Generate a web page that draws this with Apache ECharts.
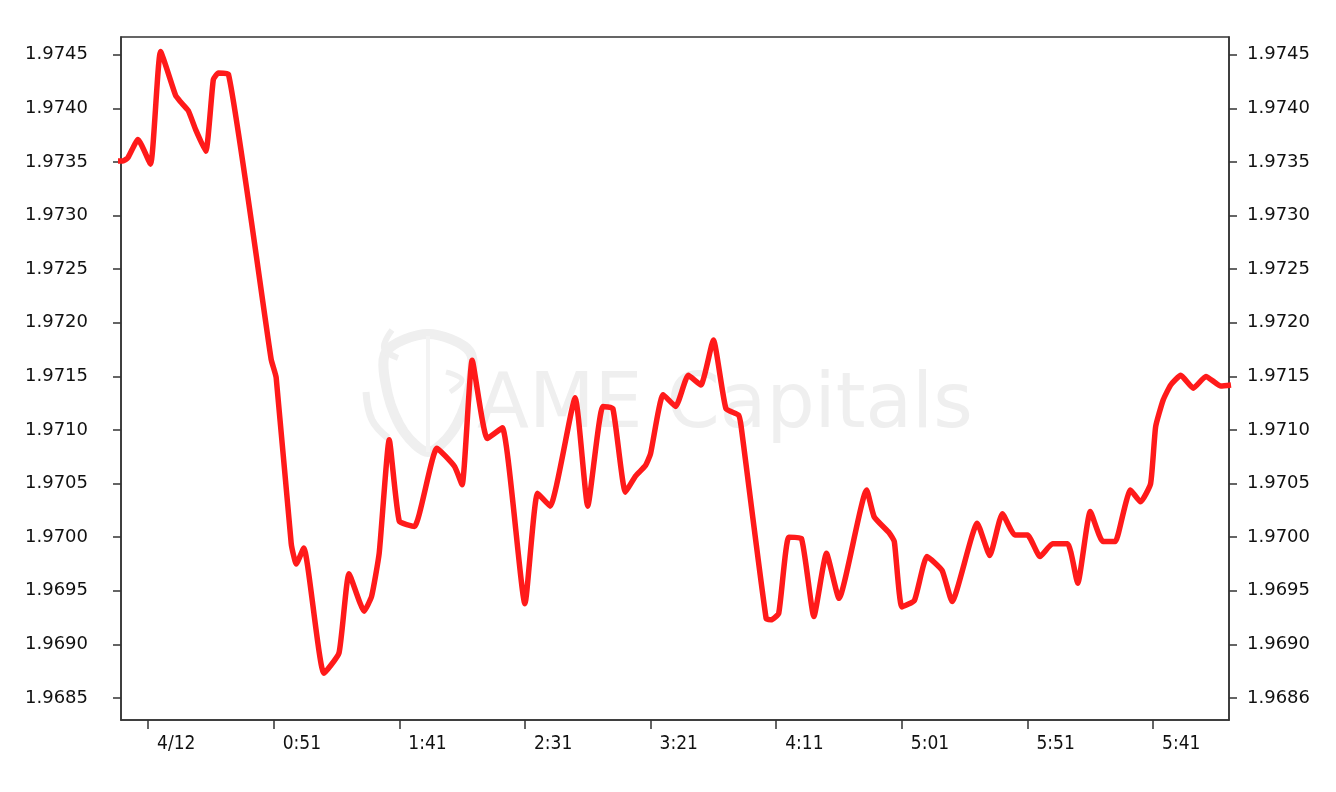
<!DOCTYPE html>
<html>
<head>
<meta charset="utf-8">
<script src="https://cdn.jsdelivr.net/npm/echarts@6/dist/echarts.min.js"></script>
<style>
  html, body { margin: 0; padding: 0; background: #ffffff; }
  #chart { width: 1336px; height: 792px; }
</style>
</head>
<body>
<div id="chart"></div>
<script>
// minutes after 00:01 (the "4/12" tick)
const minutes = [-14, -10, -8, -4, 1, 5, 11, 13, 16, 19, 23, 26, 28, 32, 49, 51, 57, 59, 62, 70,
  76, 80, 86, 89, 92, 96, 100, 106, 115, 122, 125, 129, 135, 141, 150, 155, 160, 170, 175, 181,
  185, 190, 194, 198, 200, 205, 210, 215, 220, 225, 230, 235, 236, 246, 248, 251, 255, 260, 265, 270,
  275, 286, 289, 295, 297, 300, 305, 310, 316, 320, 330, 335, 340, 345, 350, 355, 360, 366, 370, 375,
  380, 385, 386, 391, 395, 399, 401, 404, 407, 411, 416, 421, 427, 431];
const prices = [1.97351, 1.97351, 1.97354, 1.97371, 1.97348, 1.97453, 1.97412, 1.97406, 1.97398, 1.97380,
  1.97360, 1.97427, 1.97433, 1.97432, 1.97166, 1.97149, 1.96994, 1.96975, 1.96990, 1.96873,
  1.96892, 1.96966, 1.96931, 1.96945, 1.96985, 1.97091, 1.97015, 1.97010, 1.97083, 1.97066,
  1.97049, 1.97165, 1.97092, 1.97102, 1.96938, 1.97041, 1.97029, 1.97130, 1.97029, 1.97122,
  1.97120, 1.97042, 1.97057, 1.97067, 1.97078, 1.97133, 1.97122, 1.97151, 1.97142, 1.97184,
  1.97120, 1.97114, 1.97104, 1.96924, 1.96923, 1.96929, 1.97000, 1.96999, 1.96926, 1.96985,
  1.96943, 1.97044, 1.97019, 1.97004, 1.96996, 1.96935, 1.96941, 1.96982, 1.96969, 1.96940,
  1.97013, 1.96983, 1.97022, 1.97002, 1.97002, 1.96982, 1.96994, 1.96994, 1.96957, 1.97024,
  1.96996, 1.96996, 1.97002, 1.97044, 1.97033, 1.97050, 1.97103, 1.97128, 1.97142, 1.97151,
  1.97139, 1.97150, 1.97141, 1.97142];

const xTickMinutes = [0, 50, 100, 150, 200, 250, 300, 350, 400];
const xTickLabels = ['4/12', '0:51', '1:41', '2:31', '3:21', '4:11', '5:01', '5:51', '5:41'];
const yTickValues = [1.9685, 1.9690, 1.9695, 1.9700, 1.9705, 1.9710, 1.9715, 1.9720, 1.9725, 1.9730, 1.9735, 1.9740, 1.9745];
const leftTickLabels = ['1.9685', '1.9690', '1.9695', '1.9700', '1.9705', '1.9710', '1.9715', '1.9720', '1.9725', '1.9730', '1.9735', '1.9740', '1.9745'];
const rightTickLabels = ['1.9686', '1.9690', '1.9695', '1.9700', '1.9705', '1.9710', '1.9715', '1.9720', '1.9725', '1.9730', '1.9735', '1.9740', '1.9745'];

const yMin = 1.968295, yMax = 1.974666;
const xMin = -10.75, xMax = 430.2;

function labelFor(list, values, v) {
  let best = 0, bd = Infinity;
  for (let i = 0; i < values.length; i++) {
    const d = Math.abs(values[i] - v);
    if (d < bd) { bd = d; best = i; }
  }
  return list[best];
}

const axisColor = '#333333';
const wm = '#efefef';
const yFont = '"DejaVu Sans", sans-serif';
const xFont = '"DejaVu Sans Condensed", "Liberation Sans Narrow", Roboto, sans-serif';
const chart = echarts.init(document.getElementById('chart'));
const yAxisCommon = {
  type: 'value', min: yMin, max: yMax, scale: true,
  splitLine: { show: false },
  axisLine: { show: true, onZero: false, lineStyle: { color: axisColor, width: 1.5 } },
  axisTick: { show: true, length: 8, customValues: yTickValues, lineStyle: { color: axisColor, width: 1.5 } }
};
chart.setOption({
  animation: false,
  backgroundColor: '#ffffff',
  grid: { left: 121, right: 107, top: 37, bottom: 72, show: true, borderColor: axisColor, borderWidth: 1.5 },
  graphic: [
    {
      type: 'text', x: 477, y: 407, z: 0,
      style: { text: 'AME Capitals', font: '76px "DejaVu Sans"', fill: wm, verticalAlign: 'middle' }
    },
    {
      type: 'polygon', z: 0,
      shape: { points: [[386, 352], [428, 334], [470, 352], [468, 395], [452, 432], [428, 452], [404, 432], [388, 395]], smooth: 0.3 },
      style: { fill: 'none', stroke: wm, lineWidth: 10 }
    },
    {
      type: 'polyline', z: 0,
      shape: { points: [[428, 336], [428, 452]] },
      style: { fill: 'none', stroke: '#f3f3f3', lineWidth: 4 }
    },
    {
      type: 'polyline', z: 0,
      shape: { points: [[366, 392], [372, 420], [388, 438]], smooth: 0.4 },
      style: { fill: 'none', stroke: wm, lineWidth: 7 }
    },
    {
      type: 'polyline', z: 0,
      shape: { points: [[392, 330], [384, 348], [398, 358]], smooth: 0.4 },
      style: { fill: 'none', stroke: wm, lineWidth: 6 }
    },
    {
      type: 'polyline', z: 0,
      shape: { points: [[446, 372], [462, 380], [450, 392]], smooth: 0.4 },
      style: { fill: 'none', stroke: wm, lineWidth: 5 }
    }
  ],
  xAxis: {
    type: 'value', min: xMin, max: xMax,
    splitLine: { show: false },
    axisLine: { show: true, onZero: false, lineStyle: { color: axisColor, width: 1.5 } },
    axisTick: { show: true, length: 9, customValues: xTickMinutes, lineStyle: { color: axisColor, width: 1.5 } },
    axisLabel: {
      customValues: xTickMinutes,
      formatter: v => labelFor(xTickLabels, xTickMinutes, v),
      color: '#111', fontSize: 19, fontFamily: xFont, margin: 15,
      align: 'left', padding: [0, 0, 0, 9]
    }
  },
  yAxis: [
    Object.assign({}, yAxisCommon, {
      position: 'left',
      axisLabel: {
        customValues: yTickValues,
        formatter: v => labelFor(leftTickLabels, yTickValues, v),
        color: '#111', fontSize: 18, fontFamily: yFont, margin: 33
      }
    }),
    Object.assign({}, yAxisCommon, {
      position: 'right',
      axisLabel: {
        customValues: yTickValues,
        formatter: v => labelFor(rightTickLabels, yTickValues, v),
        color: '#111', fontSize: 18, fontFamily: yFont, margin: 18
      }
    })
  ],
  series: [{
    type: 'line',
    data: minutes.map((m, i) => [m, prices[i]]),
    showSymbol: false,
    clip: false,
    smooth: 0.15,
    z: 5,
    lineStyle: { color: '#ff1a1a', width: 5.5, join: 'round', cap: 'butt' }
  }]
});
</script>
</body>
</html>
